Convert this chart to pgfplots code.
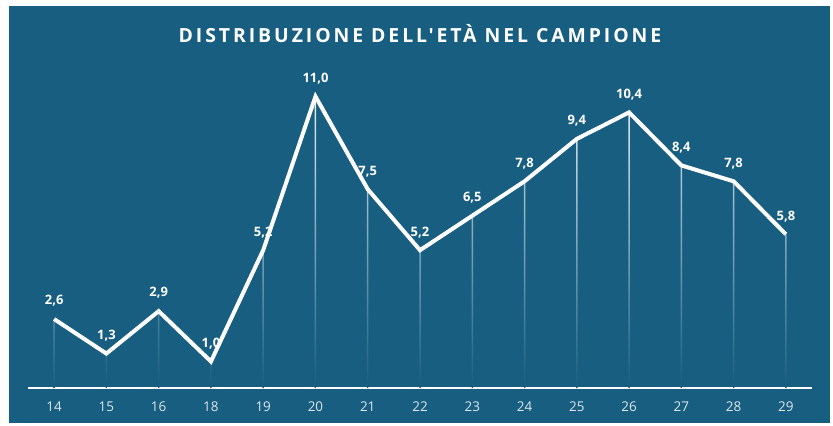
\documentclass[border=0pt]{standalone}
\usepackage{pgfplots}
\pgfplotsset{compat=1.18}
\usepackage{fontspec}
\setmainfont{Open Sans}
\newfontfamily\titlefont[LetterSpace=15]{Open Sans}
\definecolor{bg}{RGB}{23,94,129}
\definecolor{ticktxt}{RGB}{222,231,237}
\begin{document}
\begin{tikzpicture}[x=1bp,y=1bp]
\path[fill=white] (-28,-37) rectangle (805,388);
\fill[bg] (-19,-35) rectangle (802,382);
\node[font=\titlefont\fontsize{19.5}{24}\selectfont\bfseries, text=white] at (392,354) {DISTRIBUZIONE DELL{\char"27}ETÀ NEL CAMPIONE};
\begin{axis}[at={(0,0)}, anchor=south west, scale only axis,
  width=784bp, height=318bp,
  xmin=-0.5, xmax=14.5, ymin=0, ymax=12,
  axis x line*=bottom, axis y line=none,
  x axis line style={-, white, line width=1.8bp},
  xtick={0,...,14},
  xticklabels={14,15,16,18,19,20,21,22,23,24,25,26,27,28,29},
  major tick length=0pt,
  xticklabel style={font=\fontsize{13.5}{15}\selectfont, text=ticktxt, yshift=-10bp},
  /pgf/number format/assume math mode=true,
  clip=false]
\addplot[draw=none, mark=none,
  nodes near coords={\pgfmathprintnumber[fixed,fixed zerofill,precision=1,use comma,assume math mode=true]{\pgfplotspointmeta}},
  every node near coord/.append style={font=\fontsize{13}{14}\selectfont\bfseries, text=white, anchor=south, yshift=9bp}]
  coordinates {(0,2.6)(1,1.3)(2,2.9)(3,1.0)(4,5.2)(5,11.0)(6,7.5)(7,5.2)(8,6.5)(9,7.8)(10,9.4)(11,10.4)(12,8.4)(13,7.8)(14,5.8)};
\addplot[ybar, bar width=1.5bp, draw=none, top color=white!90!bg, bottom color=bg]
  coordinates {(0,2.6)(1,1.3)(2,2.9)(3,1.0)(4,5.2)(5,11.0)(6,7.5)(7,5.2)(8,6.5)(9,7.8)(10,9.4)(11,10.4)(12,8.4)(13,7.8)(14,5.8)};
\addplot[white, line width=4bp, mark=none]
  coordinates {(0,2.6)(1,1.3)(2,2.9)(3,1.0)(4,5.2)(5,11.0)(6,7.5)(7,5.2)(8,6.5)(9,7.8)(10,9.4)(11,10.4)(12,8.4)(13,7.8)(14,5.8)};
\end{axis}
\end{tikzpicture}
\end{document}
